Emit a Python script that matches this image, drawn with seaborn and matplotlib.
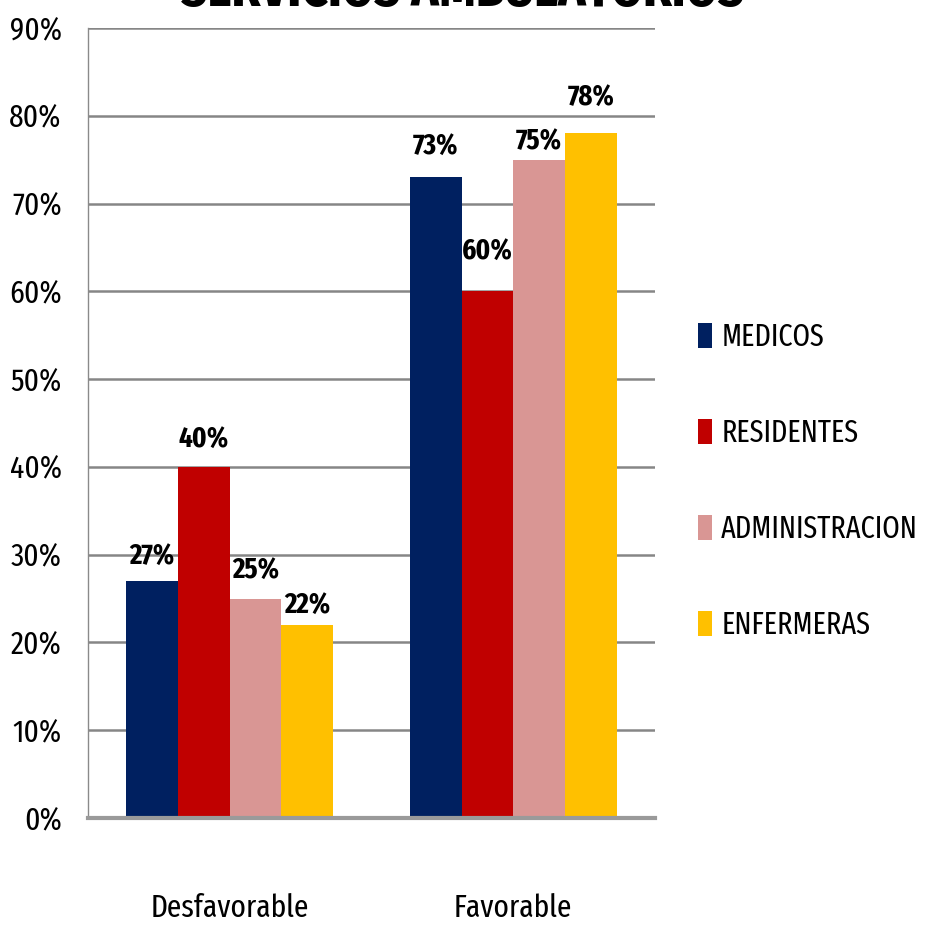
import matplotlib
matplotlib.use("Agg")
import matplotlib.pyplot as plt
import seaborn as sns
import pandas as pd
from matplotlib.patches import Patch

# Survey results by staff group
categories = ["Desfavorable", "Favorable"]
groups = ["MEDICOS", "RESIDENTES", "ADMINISTRACION", "ENFERMERAS"]
medicos = [0.27, 0.73]
residentes = [0.40, 0.60]
administracion = [0.25, 0.75]
enfermeras = [0.22, 0.78]
y_ticks = [0.0, 0.1, 0.2, 0.3, 0.4, 0.5, 0.6, 0.7, 0.8, 0.9]
title = "SERVICIOS AMBULATORIOS"

colors = ["#002060", "#C00000", "#D99694", "#FFC000"]

# gap (points) between each bar top and its value label, per group
label_gaps = [[8, 12], [10, 19], [10, 3], [4, 16]]

series = [medicos, residentes, administracion, enfermeras]
rows = []
for g, vals in zip(groups, series):
    for c, v in zip(categories, vals):
        rows.append({"categoria": c, "grupo": g, "valor": v})
df = pd.DataFrame(rows)

sns.set_style("white")
FAM = ["Fira Sans Extra Condensed", "DejaVu Sans"]
plt.rcParams["font.family"] = FAM
plt.rcParams["text.color"] = "black"

fig = plt.figure(figsize=(9.27, 9.25), dpi=100)
ax = fig.add_axes([88 / 927, 1 - 818 / 925, (655 - 88) / 927, (818 - 28) / 925])

sns.barplot(data=df, x="categoria", y="valor", hue="grupo",
            order=categories, hue_order=groups, palette=colors,
            width=0.73, saturation=1, ax=ax, legend=False,
            edgecolor="none", linewidth=0)

ax.set_ylim(0, 0.9)
ax.set_xlim(-0.5, 1.5)
ax.set_yticks(y_ticks)
ax.set_yticklabels([f"{int(round(t * 100))}%" for t in y_ticks], fontsize=23)
ax.tick_params(axis="x", labelsize=23, pad=54, length=0, labelcolor="black")
ax.tick_params(axis="y", pad=19, length=0, labelcolor="black")
ax.set_xlabel("")
ax.set_ylabel("")

ax.yaxis.grid(True, color="#868686", linewidth=1.8)
ax.set_axisbelow(True)
for s in ["top", "right"]:
    ax.spines[s].set_visible(False)
ax.spines["left"].set_color("#8a8a8a")
ax.spines["left"].set_linewidth(1.0)
ax.spines["bottom"].set_color("#9a9a9a")
ax.spines["bottom"].set_linewidth(3)

for cont, gaps in zip(ax.containers, label_gaps):
    for bar, v, gap in zip(cont.patches, cont.datavalues, gaps):
        ax.annotate(f"{int(round(v * 100))}%",
                    xy=(bar.get_x() + bar.get_width() / 2, bar.get_height()),
                    xytext=(0, gap), textcoords="offset points",
                    ha="center", va="bottom", fontsize=21, fontweight="bold",
                    color="black")

handles = [Patch(facecolor=c, edgecolor="none") for c in colors]
fig.legend(handles, groups, loc="center left", bbox_to_anchor=(686 / 927, 1 - 481 / 925),
           frameon=False, fontsize=22, handlelength=0.45, handleheight=0.9,
           handletextpad=0.3, labelspacing=2.15, borderaxespad=0, labelcolor="black")

fig.text(463 / 927, 1 - 6 / 925, title, ha="center", va="baseline",
         fontsize=40, fontweight="bold", color="black")

fig.savefig("out.png", dpi=100)
